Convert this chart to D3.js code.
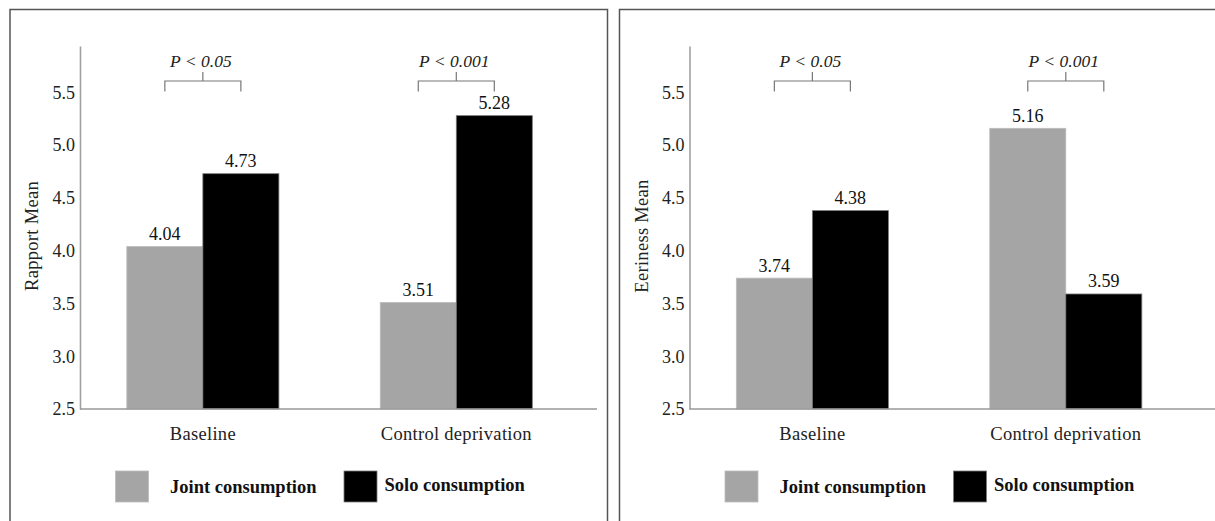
<!DOCTYPE html>
<html>
<head>
<meta charset="utf-8">
<script src="https://cdnjs.cloudflare.com/ajax/libs/d3/7.8.5/d3.min.js"></script>
<style>
  html, body { margin: 0; padding: 0; background: #fff; overflow: hidden; }
  svg { display: block; font-family: "Liberation Serif", "Times New Roman", serif; }
</style>
</head>
<body>
<script>
// Data.
const categories = ['Baseline', 'Control deprivation'];
const seriesNames = ['Joint consumption', 'Solo consumption'];
const seriesColors = ['#a5a5a5', '#000000'];
const seriesStrokes = ['#bcbcbc', '#7a7a7a'];

const rapportJoint = [4.04, 3.51];
const rapportSolo = [4.73, 5.28];
const eerinessJoint = [3.74, 5.16];
const eerinessSolo = [4.38, 3.59];

const yTicks = [2.5, 3.0, 3.5, 4.0, 4.5, 5.0, 5.5];
const pLabels = ['P < 0.05', 'P < 0.001'];

// Layout.
const page = {width: 1215, height: 521};
const plot = {top: 46, bottom: 409, axisX: 70, width: 517};
const yDomain = [2.5, 5.94];

const svg = d3.select('body')
      .append('svg')
      .attr('width', page.width)
      .attr('height', page.height);

function drawPanel(panel)
{
  const g = svg.append('g')
        .attr('transform', 'translate(' + panel.x + ',0)');

  // Panel frame.
  g.append('rect')
    .attr('x', 0)
    .attr('y', 9.5)
    .attr('width', panel.frameWidth)
    .attr('height', 540)
    .attr('fill', 'none')
    .attr('stroke', '#555')
    .attr('stroke-width', 1.5);

  const rows = categories.map((c, i) => ({category: c, values: [panel.joint[i], panel.solo[i]]}));

  // Scales.
  const x0 = d3.scaleBand()
        .domain(categories)
        .range([plot.axisX, plot.axisX + plot.width])
        .paddingInner(0.4)
        .paddingOuter(0.22)
        .align(0.42);

  const x1 = d3.scaleBand()
        .domain(seriesNames)
        .range([0, x0.bandwidth()]);

  const y = d3.scaleLinear()
        .domain(yDomain)
        .range([plot.bottom, plot.top]);

  // Bars.
  const groups = g.selectAll('g.cat')
        .data(rows)
        .enter()
        .append('g')
        .attr('class', 'cat')
        .attr('transform', (d) => 'translate(' + x0(d.category) + ',0)');

  groups.selectAll('rect')
    .data((d) => d.values.map((v, i) => ({series: seriesNames[i], i: i, value: v})))
    .enter()
    .append('rect')
    .attr('x', (d) => x1(d.series))
    .attr('y', (d) => y(d.value))
    .attr('width', x1.bandwidth())
    .attr('height', (d) => plot.bottom - y(d.value))
    .attr('fill', (d) => seriesColors[d.i])
    .attr('stroke', (d) => seriesStrokes[d.i])
    .attr('stroke-width', 0.8);

  // Value labels.
  groups.selectAll('text.value')
    .data((d) => d.values.map((v, i) => ({series: seriesNames[i], value: v})))
    .enter()
    .append('text')
    .attr('class', 'value')
    .attr('x', (d) => x1(d.series) + x1.bandwidth() / 2)
    .attr('y', (d) => y(d.value) - 6.5)
    .attr('text-anchor', 'middle')
    .attr('font-size', 18)
    .attr('fill', '#111')
    .text((d) => d.value.toFixed(2));

  // Significance brackets.
  const bracket = {top: 81, leg: 10.5, stem: 9};
  groups.each(function (d, i)
              {
                const a = x1(seriesNames[0]) + x1.bandwidth() / 2;
                const b = x1(seriesNames[1]) + x1.bandwidth() / 2;
                const mid = (a + b) / 2;
                const sel = d3.select(this);
                sel.append('path')
                  .attr('d', 'M' + a + ',' + (bracket.top + bracket.leg) + 'V' + bracket.top + 'H' + b + 'V' + (bracket.top + bracket.leg) +
                        'M' + mid + ',' + bracket.top + 'V' + (bracket.top - bracket.stem))
                  .attr('fill', 'none')
                  .attr('stroke', '#777')
                  .attr('stroke-width', 1.2);
                sel.append('text')
                  .attr('x', mid - 2)
                  .attr('y', 66.5)
                  .attr('text-anchor', 'middle')
                  .attr('font-size', 17.5)
                  .attr('font-style', 'italic')
                  .attr('fill', '#222')
                  .text(panel.pLabels[i]);
              });

  // Y axis.
  const yAxis = d3.axisLeft(y)
        .tickValues(yTicks)
        .tickSize(0)
        .tickPadding(5)
        .tickFormat(d3.format('.1f'));

  const yg = g.append('g')
        .attr('transform', 'translate(' + plot.axisX + ',0)')
        .call(yAxis)
        .attr('font-family', null)
        .attr('font-size', null);
  yg.select('.domain').attr('stroke', '#a0a0a0').attr('stroke-width', 1.6);
  yg.selectAll('text').attr('font-size', 18).attr('fill', '#222');

  // X axis.
  const xAxis = d3.axisBottom(x0)
        .tickSize(0)
        .tickPadding(18);

  const xg = g.append('g')
        .attr('transform', 'translate(0,' + plot.bottom + ')')
        .call(xAxis)
        .attr('font-family', null)
        .attr('font-size', null);
  xg.select('.domain').remove();
  xg.selectAll('text').attr('font-size', 18.5).attr('letter-spacing', 0.3).attr('fill', '#222');

  g.append('line')
    .attr('x1', plot.axisX)
    .attr('x2', plot.axisX + panel.axisLength)
    .attr('y1', plot.bottom)
    .attr('y2', plot.bottom)
    .attr('stroke', '#999')
    .attr('stroke-width', 1.4);

  // Y title.
  g.append('text')
    .attr('transform', 'translate(' + (plot.axisX - 42) + ',' + (plot.top + 190) + ') rotate(-90)')
    .attr('text-anchor', 'middle')
    .attr('font-size', 18.5)
    .attr('letter-spacing', 0.3)
    .attr('fill', '#222')
    .text(panel.title);

  // Legend.
  const legendX = [plot.axisX + 35.5, plot.axisX + 264];
  const legend = g.selectAll('g.legend')
        .data(seriesNames)
        .enter()
        .append('g')
        .attr('class', 'legend')
        .attr('transform', (d, i) => 'translate(' + legendX[i] + ',471)');

  legend.append('rect')
    .attr('width', 33)
    .attr('height', 31)
    .attr('fill', (d, i) => seriesColors[i])
    .attr('stroke', (d, i) => seriesStrokes[i])
    .attr('stroke-width', 0.8);

  legend.append('text')
    .attr('x', (d, i) => i === 0 ? 54.5 : 40.5)
    .attr('y', (d, i) => i === 0 ? 22 : 20)
    .attr('font-size', 18.5)
    .attr('font-weight', 'bold')
    .attr('fill', '#111')
    .text((d) => d);
}

drawPanel({x: 10, frameWidth: 597.5, axisLength: 517, title: 'Rapport Mean', joint: rapportJoint, solo: rapportSolo, pLabels: pLabels});
drawPanel({x: 619.5, frameWidth: 620, axisLength: 540, title: 'Eeriness Mean', joint: eerinessJoint, solo: eerinessSolo, pLabels: pLabels});
</script>
</body>
</html>
